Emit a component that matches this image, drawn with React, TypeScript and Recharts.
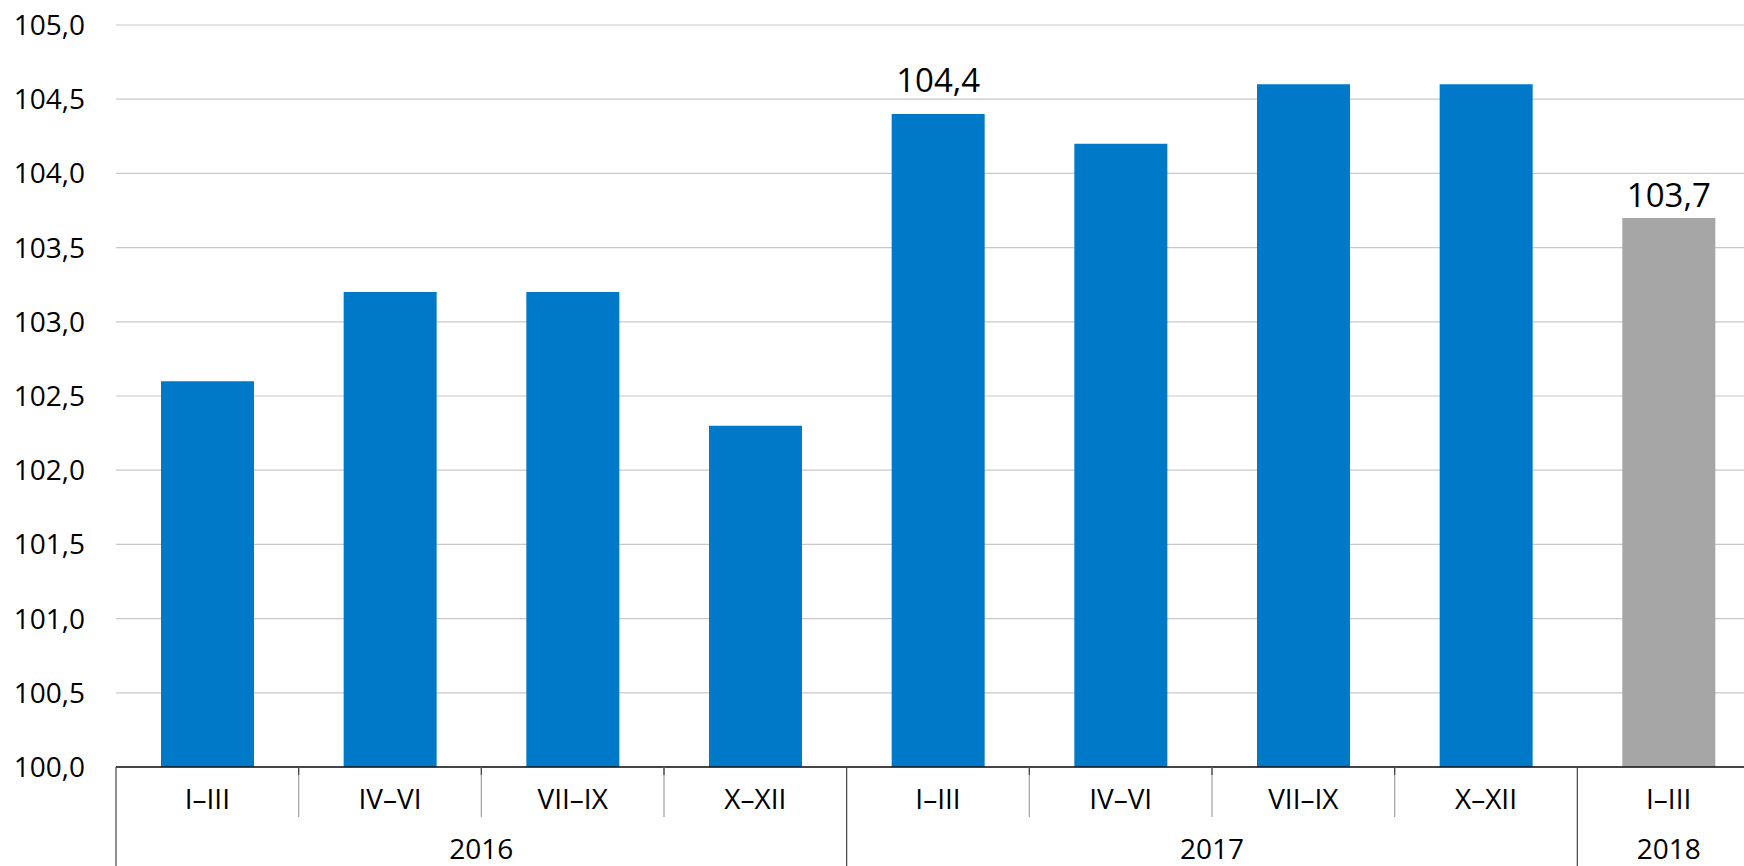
import { BarChart, Bar, XAxis, YAxis, CartesianGrid, Cell, LabelList } from "recharts"

const categories = ["I–III", "IV–VI", "VII–IX", "X–XII", "I–III", "IV–VI", "VII–IX", "X–XII", "I–III"]
const values = [102.6, 103.2, 103.2, 102.3, 104.4, 104.2, 104.6, 104.6, 103.7]
const years = ["2016", "2017", "2018"]
const yearSpans = [4, 4, 1]
const labeled = [false, false, false, false, true, false, false, false, true]
const yTicks = [100, 100.5, 101, 101.5, 102, 102.5, 103, 103.5, 104, 104.5, 105]

// which year each quarter belongs to, and where each year group starts
const yearOf: number[] = []
const groupStart: number[] = []
yearSpans.forEach((span, yi) => {
  groupStart.push(yearOf.length)
  for (let k = 0; k < span; k++) yearOf.push(yi)
})

const data = categories.map((q, i) => ({ q, v: values[i], year: years[yearOf[i]] }))

const FONT = "'Open Sans', 'Noto Sans', sans-serif"
const INK = "#000"
const W = 1760
const H = 866
const Y_W = 116
const BAND = (W - Y_W) / categories.length
const AXIS_Y = 767

function QuarterTick(props: any) {
  const { x, index, payload } = props
  const left = x - BAND / 2
  const yi = yearOf[index]
  const isStart = groupStart[yi] === index
  return (
    <g>
      {isStart ? (
        <line x1={left} x2={left} y1={AXIS_Y} y2={H} stroke="#444" strokeWidth={1.2} />
      ) : (
        <>
          <line x1={left} x2={left} y1={AXIS_Y} y2={AXIS_Y + 50} stroke="#a0a0a0" strokeWidth={1.2} />
          <line x1={left} x2={left} y1={AXIS_Y} y2={AXIS_Y + 8} stroke="#444" strokeWidth={1.2} />
        </>
      )}
      <text x={x} y={AXIS_Y + 31} textAnchor="middle" dominantBaseline="central" fontSize={28} fill={INK} fontFamily={FONT}>
        {payload.value}
      </text>
      {isStart && (
        <text
          x={left + (yearSpans[yi] * BAND) / 2}
          y={AXIS_Y + 81}
          textAnchor="middle"
          dominantBaseline="central"
          fontSize={28}
          fill={INK}
          fontFamily={FONT}
        >
          {years[yi]}
        </text>
      )}
    </g>
  )
}

function ValueLabel(props: any) {
  const { x, y, width, value, index } = props
  if (!labeled[index]) return null
  // the 104,4 label sits clear of the 104,5 gridline in the original
  const lift = value > 104.3 ? 22 : 11
  return (
    <text x={x + width / 2} y={y - lift} textAnchor="middle" fontSize={33} fill={INK} fontFamily={FONT}>
      {String(value.toFixed(1)).replace(".", ",")}
    </text>
  )
}

export default function App() {
  return (
    <div style={{ width: 1744, height: 866, overflow: "hidden", background: "#fff", fontFamily: FONT }}>
      <style>{"body{margin:0}"}</style>
      <BarChart width={W} height={H} data={data} margin={{ top: 25, right: 0, bottom: 0, left: 0 }}>
        <CartesianGrid vertical={false} stroke="#c8c8c8" strokeWidth={1.2} />
        <XAxis
          dataKey="q"
          height={99}
          interval={0}
          tickLine={false}
          tickSize={0}
          tickMargin={0}
          axisLine={{ stroke: "#111", strokeWidth: 1.5 }}
          tick={<QuarterTick />}
        />
        <YAxis
          width={Y_W}
          domain={[100, 105]}
          ticks={yTicks}
          allowDataOverflow
          axisLine={false}
          tickLine={false}
          tickSize={0}
          tickMargin={31}
          tick={{ fontSize: 28, fill: INK, fontFamily: FONT }}
          tickFormatter={(v: number) => v.toFixed(1).replace(".", ",")}
        />
        <Bar dataKey="v" barSize={93} isAnimationActive={false}>
          {data.map((d, i) => (
            <Cell key={i} fill={d.year === "2018" ? "#a6a6a6" : "#0079c8"} />
          ))}
          <LabelList dataKey="v" content={<ValueLabel />} />
        </Bar>
      </BarChart>
    </div>
  )
}
